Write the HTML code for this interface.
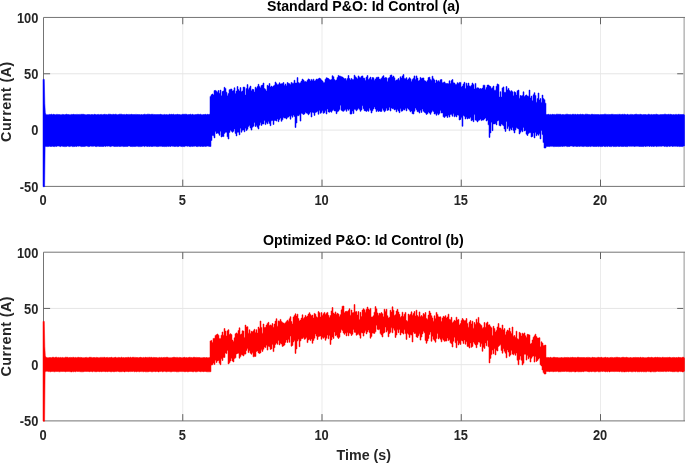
<!DOCTYPE html>
<html><head><meta charset="utf-8"><title>P&amp;O Id Control</title>
<style>
html,body{margin:0;padding:0;background:#fff;}
body{width:685px;height:463px;overflow:hidden;}
svg{display:block;}
text{font-family:"Liberation Sans",sans-serif;font-weight:bold;}
.tk{font-size:14.3px;fill:#262626;}
.lb{font-size:15.2px;fill:#262626;}
.tt{font-size:15px;fill:#000;}
.yl{font-size:14.4px;letter-spacing:0.42px;}
</style></head><body>
<svg width="685" height="463" viewBox="0 0 685 463">
<rect width="685" height="463" fill="#fff"/>
<g>
<line x1="182.75" y1="17.45" x2="182.75" y2="186.40" stroke="#ebebeb" stroke-width="1"/>
<line x1="322.00" y1="17.45" x2="322.00" y2="186.40" stroke="#ebebeb" stroke-width="1"/>
<line x1="461.25" y1="17.45" x2="461.25" y2="186.40" stroke="#ebebeb" stroke-width="1"/>
<line x1="600.50" y1="17.45" x2="600.50" y2="186.40" stroke="#ebebeb" stroke-width="1"/>
<line x1="43.50" y1="130.08" x2="686" y2="130.08" stroke="#e6e6e6" stroke-width="1"/>
<line x1="43.50" y1="73.77" x2="686" y2="73.77" stroke="#e6e6e6" stroke-width="1"/>
<line x1="684.2" y1="17.45" x2="684.2" y2="186.40" stroke="#bdbdbd" stroke-width="1.7"/>
<path d="M685.5 17.45 H43.50 V186.40 H685.5" fill="none" stroke="#747474" stroke-width="1"/>
<path d="M182.75 17.45v6.8M182.75 186.40v-6.8M322.00 17.45v6.8M322.00 186.40v-6.8M461.25 17.45v6.8M461.25 186.40v-6.8M600.50 17.45v6.8M600.50 186.40v-6.8M43.50 130.08h6.6M683.2 130.08h-6M43.50 73.77h6.6M683.2 73.77h-6" fill="none" stroke="#626262" stroke-width="1"/>
<path fill="#0000ff" stroke="#0000ff" stroke-width="0.5" stroke-linejoin="round" d="M43.0 186.7V79.4H44.3L44.8 103.5L45.3 112.5L46.0 114.7V114.7H47V114.7H48V114.7H49V114.4H50V114.6H51V114.2H52V114.7H53V114.3H54V114.6H55V114.8H56V114.4H57V114.4H58V114.6H59V114.6H60V114.7H61V114.7H62V114.4H63V114.5H64V114.7H65V114.6H66V114.2H67V114.6H68V114.5H69V114.7H70V114.8H71V114.4H72V114.6H73V114.3H74V114.6H75V114.6H76V114.4H77V114.4H78V114.6H79V114.4H80V114.4H81V114.3H82V114.3H83V114.3H84V114.6H85V114.7H86V114.8H87V114.6H88V114.5H89V114.6H90V114.7H91V114.5H92V114.6H93V114.7H94V114.3H95V114.5H96V114.7H97V114.6H98V114.4H99V114.7H100V114.5H101V114.4H102V114.7H103V114.5H104V114.3H105V114.4H106V114.5H107V114.8H108V114.2H109V114.2H110V114.3H111V114.6H112V114.4H113V114.3H114V114.5H115V114.2H116V114.4H117V114.8H118V114.6H119V114.2H120V114.2H121V114.2H122V114.6H123V114.6H124V114.4H125V114.7H126V114.3H127V114.5H128V114.4H129V114.4H130V114.6H131V114.3H132V114.6H133V114.5H134V114.5H135V114.4H136V114.4H137V114.5H138V114.6H139V114.6H140V114.7H141V114.5H142V114.8H143V114.6H144V114.2H145V114.4H146V114.5H147V114.2H148V114.2H149V114.3H150V114.6H151V114.3H152V114.3H153V114.4H154V114.5H155V114.6H156V114.6H157V114.5H158V114.5H159V114.5H160V114.3H161V114.6H162V114.7H163V114.7H164V114.4H165V114.7H166V114.6H167V114.7H168V114.8H169V114.2H170V114.6H171V114.3H172V114.5H173V114.2H174V114.7H175V114.6H176V114.6H177V114.3H178V114.6H179V114.5H180V114.7H181V114.7H182V114.3H183V114.3H184V114.3H185V114.2H186V114.3H187V114.7H188V114.6H189V114.5H190V114.2H191V114.8H192V114.3H193V114.7H194V114.7H195V114.6H196V114.5H197V114.3H198V114.3H199V114.6H200V114.2H201V114.7H202V114.7H203V114.5H204V114.6H205V114.3H206V114.8H207V114.3H208V114.6H209V114.3H210V96.4H211V94.8H212V94.0H213V95.0H214V90.6H215V90.4H216V91.2H217V92.3H218V90.5H219V93.3H220V90.1H221V95.8H222V91.5H223V90.9H224V87.3H225V88.5H226V92.2H227V95.7H228V93.6H229V89.7H230V89.2H231V89.0H232V90.9H233V90.6H234V87.8H235V93.4H236V91.1H237V86.5H238V89.6H239V91.1H240V87.6H241V91.8H242V91.0H243V87.1H244V87.2H245V95.1H246V88.6H247V84.6H248V89.2H249V87.8H250V86.1H251V90.7H252V89.3H253V89.6H254V92.0H255V87.2H256V88.3H257V86.6H258V84.3H259V86.4H260V87.7H261V85.4H262V85.0H263V83.0H264V88.5H265V89.4H266V91.1H267V85.3H268V85.9H269V83.5H270V87.1H271V86.1H272V87.1H273V86.0H274V85.2H275V82.0H276V83.5H277V84.8H278V84.5H279V82.8H280V84.1H281V83.8H282V83.6H283V82.5H284V85.5H285V84.0H286V85.8H287V82.6H288V83.3H289V83.8H290V84.4H291V82.4H292V83.2H293V83.2H294V80.3H295V83.1H296V83.0H297V77.6H298V82.6H299V83.3H300V82.7H301V81.0H302V79.1H303V80.0H304V81.4H305V81.4H306V82.0H307V80.3H308V78.9H309V79.5H310V81.1H311V79.4H312V80.4H313V79.2H314V81.1H315V80.4H316V79.1H317V79.3H318V78.8H319V78.1H320V78.8H321V80.0H322V81.0H323V82.4H324V82.4H325V79.3H326V77.8H327V78.1H328V78.6H329V79.6H330V80.0H331V79.5H332V75.7H333V76.7H334V79.6H335V80.6H336V79.9H337V77.5H338V75.4H339V76.1H340V76.2H341V76.8H342V77.1H343V77.9H344V78.8H345V78.6H346V80.2H347V78.4H348V75.5H349V78.5H350V80.0H351V78.4H352V79.5H353V79.4H354V75.2H355V76.7H356V77.7H357V78.8H358V75.9H359V77.2H360V77.7H361V76.3H362V75.9H363V78.0H364V78.2H365V80.6H366V77.1H367V75.5H368V79.5H369V78.6H370V77.1H371V79.6H372V77.6H373V77.7H374V80.2H375V79.0H376V77.4H377V77.2H378V77.1H379V79.1H380V79.2H381V78.3H382V76.7H383V75.7H384V78.1H385V77.6H386V77.8H387V81.4H388V78.2H389V77.5H390V75.3H391V74.9H392V77.1H393V76.1H394V77.8H395V80.7H396V80.0H397V79.8H398V78.5H399V80.3H400V76.8H401V78.1H402V75.9H403V74.5H404V78.4H405V78.8H406V77.7H407V80.1H408V78.9H409V77.7H410V78.8H411V81.4H412V79.6H413V78.2H414V75.9H415V79.5H416V75.9H417V78.1H418V80.9H419V80.3H420V77.4H421V78.6H422V78.1H423V77.9H424V80.6H425V81.0H426V81.9H427V80.4H428V77.6H429V77.2H430V79.4H431V80.2H432V76.2H433V78.7H434V79.9H435V82.9H436V80.1H437V81.5H438V80.7H439V81.7H440V79.8H441V79.5H442V82.8H443V82.4H444V81.9H445V83.3H446V83.6H447V83.5H448V83.7H449V80.8H450V83.5H451V80.6H452V79.5H453V82.8H454V83.0H455V84.5H456V84.5H457V82.7H458V83.5H459V82.4H460V82.4H461V86.9H462V86.1H463V83.9H464V82.3H465V88.6H466V83.2H467V85.7H468V83.1H469V85.9H470V86.5H471V85.2H472V83.0H473V84.6H474V89.0H475V83.4H476V88.2H477V87.8H478V87.9H479V88.9H480V88.5H481V88.9H482V88.1H483V85.2H484V85.2H485V89.4H486V87.4H487V85.1H488V85.0H489V85.9H490V86.6H491V88.5H492V87.8H493V86.1H494V90.2H495V90.2H496V86.2H497V83.9H498V84.6H499V97.1H500V91.7H501V97.1H502V87.9H503V86.9H504V92.3H505V92.3H506V86.5H507V89.9H508V88.4H509V90.6H510V91.4H511V90.7H512V91.7H513V95.7H514V91.8H515V92.5H516V95.1H517V90.8H518V90.1H519V98.2H520V95.5H521V95.9H522V95.4H523V91.8H524V96.5H525V95.6H526V94.9H527V96.1H528V96.2H529V90.1H530V98.0H531V96.1H532V100.8H533V94.7H534V92.7H535V95.4H536V102.2H537V98.6H538V93.0H539V100.0H540V98.5H541V102.4H542V95.1H543V98.6H544V99.7H545V103.2H546V114.5H547V114.5H548V114.3H549V114.7H550V114.4H551V114.7H552V114.3H553V114.5H554V114.4H555V114.7H556V114.2H557V114.2H558V114.3H559V114.3H560V114.3H561V114.8H562V114.5H563V114.6H564V114.7H565V114.4H566V114.2H567V114.2H568V114.5H569V114.6H570V114.4H571V114.7H572V114.3H573V114.3H574V114.4H575V114.3H576V114.7H577V114.3H578V114.6H579V114.5H580V114.2H581V114.5H582V114.3H583V114.6H584V114.7H585V114.2H586V114.2H587V114.3H588V114.5H589V114.6H590V114.7H591V114.3H592V114.3H593V114.6H594V114.4H595V114.5H596V114.5H597V114.5H598V114.5H599V114.7H600V114.6H601V114.6H602V114.5H603V114.5H604V114.2H605V114.2H606V114.4H607V114.6H608V114.4H609V114.5H610V114.6H611V114.3H612V114.3H613V114.4H614V114.6H615V114.5H616V114.6H617V114.4H618V114.4H619V114.3H620V114.4H621V114.6H622V114.3H623V114.4H624V114.2H625V114.6H626V114.7H627V114.3H628V114.8H629V114.7H630V114.4H631V114.4H632V114.6H633V114.7H634V114.5H635V114.3H636V114.2H637V114.6H638V114.6H639V114.4H640V114.3H641V114.6H642V114.7H643V114.6H644V114.6H645V114.5H646V114.7H647V114.7H648V114.2H649V114.4H650V114.8H651V114.4H652V114.7H653V114.5H654V114.5H655V114.4H656V114.2H657V114.6H658V114.7H659V114.7H660V114.6H661V114.6H662V114.5H663V114.5H664V114.2H665V114.2H666V114.5H667V114.6H668V114.3H669V114.4H670V114.3H671V114.5H672V114.8H673V114.6H674V114.7H675V114.4H676V114.4H677V114.7H678V114.3H679V114.4H680V114.5H681V114.5H682V114.5H683V114.4H684H684.0V146.1H683V146.6H682V146.5H681V146.4H680V146.6H679V146.3H678V146.4H677V146.2H676V146.3H675V146.2H674V146.3H673V146.5H672V146.1H671V146.2H670V146.4H669V146.1H668V146.6H667V146.6H666V146.3H665V146.4H664V146.1H663V146.1H662V146.3H661V146.2H660V146.2H659V146.3H658V146.2H657V146.6H656V146.1H655V146.3H654V146.5H653V146.2H652V146.4H651V146.1H650V146.5H649V146.1H648V146.2H647V146.2H646V146.5H645V146.1H644V146.6H643V146.5H642V146.5H641V146.4H640V146.5H639V146.3H638V146.2H637V146.2H636V146.3H635V146.5H634V146.2H633V146.2H632V146.3H631V146.2H630V146.3H629V146.1H628V146.6H627V146.6H626V146.5H625V146.3H624V146.5H623V146.5H622V146.4H621V146.2H620V146.5H619V146.4H618V146.2H617V146.4H616V146.6H615V146.5H614V146.6H613V146.1H612V146.6H611V146.6H610V146.5H609V146.1H608V146.6H607V146.2H606V146.6H605V146.5H604V146.1H603V146.4H602V146.6H601V146.5H600V146.3H599V146.6H598V146.2H597V146.5H596V146.4H595V146.5H594V146.5H593V146.2H592V146.2H591V146.6H590V146.2H589V146.5H588V146.6H587V146.5H586V146.2H585V146.3H584V146.6H583V146.4H582V146.3H581V146.2H580V146.4H579V146.2H578V146.4H577V146.5H576V146.2H575V146.2H574V146.5H573V146.2H572V146.1H571V146.1H570V146.5H569V146.4H568V146.6H567V146.3H566V146.1H565V146.3H564V146.2H563V146.5H562V146.3H561V146.4H560V146.5H559V146.6H558V146.4H557V146.5H556V146.4H555V146.6H554V146.6H553V146.2H552V146.3H551V146.2H550V146.6H549V146.4H548V146.5H547V146.5H546V148.0H545V148.0H544V142.6H543V134.6H542V130.5H541V138.9H540V133.7H539V135.2H538V134.0H537V135.7H536V132.6H535V137.9H534V132.9H533V136.4H532V137.0H531V132.7H530V132.7H529V133.5H528V135.5H527V134.2H526V130.4H525V130.9H524V127.5H523V131.8H522V130.4H521V132.3H520V133.9H519V128.9H518V128.3H517V127.8H516V129.9H515V132.9H514V130.6H513V127.5H512V129.9H511V128.4H510V130.8H509V126.6H508V128.6H507V121.5H506V131.4H505V128.9H504V125.7H503V124.8H502V123.9H501V126.0H500V125.6H499V120.6H498V121.0H497V124.9H496V123.5H495V123.9H494V123.9H493V130.7H492V122.2H491V132.9H490V137.4H489V124.8H488V120.3H487V121.0H486V117.9H485V118.9H484V120.1H483V120.0H482V120.6H481V119.0H480V120.1H479V120.5H478V121.9H477V120.5H476V120.1H475V114.6H474V121.7H473V120.0H472V120.7H471V117.3H470V118.4H469V118.3H468V118.9H467V117.2H466V119.0H465V116.3H464V115.5H463V126.3H462V117.6H461V119.4H460V120.0H459V115.2H458V114.9H457V116.9H456V115.8H455V116.8H454V113.8H453V116.2H452V114.6H451V114.5H450V117.1H449V115.2H448V117.5H447V115.9H446V116.3H445V117.4H444V116.8H443V112.9H442V113.0H441V110.6H440V113.6H439V114.8H438V113.4H437V115.3H436V113.8H435V114.0H434V111.4H433V110.8H432V112.3H431V114.3H430V113.0H429V112.1H428V113.7H427V114.4H426V113.1H425V112.3H424V111.2H423V109.0H422V112.4H421V110.3H420V113.1H419V111.7H418V111.7H417V109.8H416V108.1H415V111.3H414V114.0H413V113.7H412V110.9H411V111.8H410V110.2H409V109.1H408V108.1H407V110.9H406V108.6H405V110.0H404V109.5H403V110.9H402V111.2H401V108.8H400V112.7H399V111.0H398V109.4H397V111.8H396V109.4H395V109.9H394V108.7H393V108.7H392V107.9H391V111.0H390V107.3H389V110.0H388V110.4H387V108.2H386V110.7H385V111.8H384V110.3H383V108.4H382V111.4H381V111.4H380V110.9H379V111.5H378V110.6H377V111.6H376V109.1H375V107.0H374V108.9H373V110.8H372V113.0H371V110.2H370V108.2H369V111.3H368V110.4H367V111.4H366V110.9H365V110.7H364V108.7H363V105.7H362V110.0H361V111.3H360V109.3H359V108.2H358V109.6H357V110.8H356V109.6H355V109.3H354V113.5H353V111.0H352V114.0H351V114.1H350V109.0H349V110.3H348V109.0H347V111.3H346V109.6H345V110.3H344V111.3H343V111.1H342V110.3H341V105.2H340V109.6H339V111.1H338V111.8H337V113.7H336V111.1H335V110.9H334V109.8H333V110.5H332V112.2H331V111.4H330V112.2H329V111.9H328V108.9H327V114.0H326V110.8H325V112.7H324V113.3H323V110.7H322V112.6H321V113.3H320V110.6H319V114.3H318V111.3H317V112.1H316V112.5H315V115.4H314V112.7H313V112.3H312V117.0H311V112.1H310V113.4H309V114.8H308V113.5H307V113.1H306V112.2H305V114.0H304V114.5H303V113.7H302V113.3H301V121.1H300V114.8H299V115.7H298V115.8H297V123.0H296V127.5H295V116.4H294V115.1H293V117.2H292V115.7H291V119.2H290V116.1H289V117.1H288V117.4H287V119.0H286V118.1H285V118.1H284V117.6H283V119.8H282V121.3H281V118.1H280V119.4H279V121.7H278V118.9H277V121.1H276V120.5H275V120.5H274V124.5H273V120.4H272V120.8H271V125.7H270V123.4H269V121.6H268V123.8H267V122.5H266V124.6H265V120.5H264V124.0H263V124.0H262V125.4H261V122.8H260V125.2H259V129.0H258V127.3H257V125.6H256V126.5H255V122.5H254V126.2H253V127.2H252V130.1H251V128.0H250V125.6H249V126.6H248V129.2H247V130.6H246V128.2H245V131.8H244V129.9H243V130.2H242V132.2H241V128.2H240V134.8H239V132.2H238V132.3H237V135.9H236V133.4H235V128.9H234V131.3H233V132.2H232V131.2H231V130.3H230V132.4H229V139.0H228V136.8H227V132.2H226V132.3H225V133.4H224V136.6H223V136.5H222V137.0H221V131.3H220V135.3H219V133.4H218V133.1H217V133.5H216V131.6H215V137.9H214V135.8H213V135.4H212V140.5H211V146.5H210V146.4H209V146.2H208V146.1H207V146.3H206V146.4H205V146.3H204V146.4H203V146.5H202V146.2H201V146.5H200V146.2H199V146.3H198V146.6H197V146.5H196V146.1H195V146.2H194V146.3H193V146.4H192V146.3H191V146.6H190V146.5H189V146.1H188V146.3H187V146.1H186V146.1H185V146.6H184V146.5H183V146.6H182V146.5H181V146.2H180V146.1H179V146.5H178V146.6H177V146.3H176V146.4H175V146.5H174V146.3H173V146.2H172V146.1H171V146.5H170V146.2H169V146.4H168V146.3H167V146.6H166V146.4H165V146.6H164V146.4H163V146.5H162V146.2H161V146.3H160V146.3H159V146.4H158V146.6H157V146.4H156V146.3H155V146.3H154V146.2H153V146.5H152V146.5H151V146.2H150V146.5H149V146.2H148V146.5H147V146.3H146V146.1H145V146.6H144V146.1H143V146.2H142V146.4H141V146.6H140V146.6H139V146.6H138V146.3H137V146.3H136V146.4H135V146.5H134V146.4H133V146.6H132V146.5H131V146.4H130V146.1H129V146.1H128V146.4H127V146.4H126V146.4H125V146.5H124V146.6H123V146.2H122V146.3H121V146.4H120V146.5H119V146.3H118V146.4H117V146.4H116V146.4H115V146.5H114V146.2H113V146.1H112V146.2H111V146.6H110V146.2H109V146.1H108V146.2H107V146.1H106V146.4H105V146.1H104V146.5H103V146.5H102V146.4H101V146.4H100V146.5H99V146.3H98V146.2H97V146.6H96V146.4H95V146.1H94V146.2H93V146.3H92V146.2H91V146.1H90V146.4H89V146.6H88V146.2H87V146.1H86V146.2H85V146.4H84V146.5H83V146.5H82V146.6H81V146.2H80V146.1H79V146.2H78V146.1H77V146.5H76V146.2H75V146.5H74V146.6H73V146.6H72V146.1H71V146.3H70V146.6H69V146.3H68V146.1H67V146.4H66V146.6H65V146.6H64V146.4H63V146.3H62V146.1H61V146.6H60V146.2H59V146.1H58V146.1H57V146.4H56V146.3H55V146.6H54V146.5H53V146.2H52V146.4H51V146.5H50V146.3H49V146.4H48V146.6H47V146.4H46L45.1 146.6L44.6 186.7Z"/>
<rect x="684" y="114.8" width="1" height="31.3" fill="#0000ff" opacity="0.7"/>
<text class="tk" transform="translate(38.4 22.85) scale(0.9 1)" text-anchor="end">100</text>
<text class="tk" transform="translate(38.4 79.17) scale(0.9 1)" text-anchor="end">50</text>
<text class="tk" transform="translate(38.4 135.48) scale(0.9 1)" text-anchor="end">0</text>
<text class="tk" transform="translate(38.4 191.80) scale(0.9 1)" text-anchor="end">-50</text>
<text class="tk" transform="translate(43.10 205.40) scale(0.9 1)" text-anchor="middle">0</text>
<text class="tk" transform="translate(182.35 205.40) scale(0.9 1)" text-anchor="middle">5</text>
<text class="tk" transform="translate(321.60 205.40) scale(0.9 1)" text-anchor="middle">10</text>
<text class="tk" transform="translate(460.85 205.40) scale(0.9 1)" text-anchor="middle">15</text>
<text class="tk" transform="translate(600.10 205.40) scale(0.9 1)" text-anchor="middle">20</text>
<text class="lb yl" transform="translate(10.5 101.62) rotate(-90)" text-anchor="middle">Current (A)</text>
<text class="tt" transform="translate(363.4 11.00) scale(0.945 1)" text-anchor="middle">Standard P&amp;O: Id Control (a)</text>
</g>
<g>
<line x1="182.75" y1="252.20" x2="182.75" y2="420.90" stroke="#ebebeb" stroke-width="1"/>
<line x1="322.00" y1="252.20" x2="322.00" y2="420.90" stroke="#ebebeb" stroke-width="1"/>
<line x1="461.25" y1="252.20" x2="461.25" y2="420.90" stroke="#ebebeb" stroke-width="1"/>
<line x1="600.50" y1="252.20" x2="600.50" y2="420.90" stroke="#ebebeb" stroke-width="1"/>
<line x1="43.50" y1="364.67" x2="686" y2="364.67" stroke="#e6e6e6" stroke-width="1"/>
<line x1="43.50" y1="308.43" x2="686" y2="308.43" stroke="#e6e6e6" stroke-width="1"/>
<line x1="684.2" y1="252.20" x2="684.2" y2="420.90" stroke="#bdbdbd" stroke-width="1.7"/>
<path d="M685.5 252.20 H43.50 V420.90 H685.5" fill="none" stroke="#747474" stroke-width="1"/>
<path d="M182.75 252.20v6.8M182.75 420.90v-6.8M322.00 252.20v6.8M322.00 420.90v-6.8M461.25 252.20v6.8M461.25 420.90v-6.8M600.50 252.20v6.8M600.50 420.90v-6.8M43.50 364.67h6.6M683.2 364.67h-6M43.50 308.43h6.6M683.2 308.43h-6" fill="none" stroke="#626262" stroke-width="1"/>
<path fill="#ff0000" stroke="#ff0000" stroke-width="0.5" stroke-linejoin="round" d="M43.0 421.2V321.4H44.3L44.8 346.6L45.3 355.6L46.0 357.5V357.5H47V357.8H48V357.7H49V357.6H50V357.6H51V357.7H52V357.3H53V357.3H54V357.7H55V357.3H56V357.2H57V357.7H58V357.4H59V357.7H60V357.4H61V357.8H62V357.4H63V357.7H64V357.7H65V357.2H66V357.3H67V357.3H68V357.8H69V357.5H70V357.4H71V357.5H72V357.4H73V357.3H74V357.7H75V357.4H76V357.8H77V357.4H78V357.3H79V357.6H80V357.4H81V357.5H82V357.8H83V357.7H84V357.7H85V357.5H86V357.4H87V357.7H88V357.7H89V357.3H90V357.3H91V357.4H92V357.7H93V357.5H94V357.5H95V357.7H96V357.4H97V357.6H98V357.7H99V357.7H100V357.4H101V357.4H102V357.4H103V357.4H104V357.3H105V357.8H106V357.5H107V357.4H108V357.8H109V357.6H110V357.6H111V357.3H112V357.7H113V357.7H114V357.5H115V357.3H116V357.8H117V357.7H118V357.4H119V357.6H120V357.7H121V357.2H122V357.7H123V357.6H124V357.8H125V357.6H126V357.6H127V357.4H128V357.3H129V357.8H130V357.2H131V357.8H132V357.3H133V357.3H134V357.4H135V357.4H136V357.5H137V357.6H138V357.8H139V357.5H140V357.3H141V357.6H142V357.8H143V357.4H144V357.7H145V357.3H146V357.6H147V357.4H148V357.4H149V357.3H150V357.4H151V357.3H152V357.8H153V357.4H154V357.5H155V357.6H156V357.6H157V357.8H158V357.8H159V357.4H160V357.7H161V357.4H162V357.8H163V357.5H164V357.4H165V357.6H166V357.3H167V357.3H168V357.7H169V357.8H170V357.7H171V357.7H172V357.6H173V357.3H174V357.3H175V357.6H176V357.4H177V357.4H178V357.8H179V357.4H180V357.5H181V357.7H182V357.7H183V357.5H184V357.3H185V357.7H186V357.6H187V357.8H188V357.6H189V357.3H190V357.4H191V357.6H192V357.7H193V357.3H194V357.3H195V357.6H196V357.4H197V357.5H198V357.5H199V357.5H200V357.8H201V357.8H202V357.7H203V357.6H204V357.6H205V357.8H206V357.5H207V357.8H208V357.7H209V357.5H210V340.9H211V340.4H212V342.6H213V338.4H214V338.3H215V335.4H216V334.7H217V334.0H218V335.2H219V338.4H220V338.4H221V335.2H222V332.0H223V335.3H224V328.5H225V331.1H226V335.9H227V330.7H228V329.7H229V334.6H230V333.7H231V334.6H232V340.1H233V341.6H234V337.8H235V333.8H236V332.9H237V333.7H238V330.5H239V327.8H240V334.6H241V333.9H242V330.8H243V331.0H244V337.4H245V325.1H246V326.9H247V326.7H248V333.2H249V329.8H250V333.6H251V331.3H252V331.7H253V330.7H254V329.3H255V332.4H256V329.7H257V333.1H258V327.1H259V328.6H260V321.0H261V327.4H262V333.2H263V324.0H264V327.5H265V327.3H266V325.1H267V323.4H268V322.3H269V325.5H270V324.9H271V325.6H272V323.5H273V327.3H274V324.1H275V321.1H276V318.7H277V326.2H278V320.9H279V321.3H280V319.4H281V321.4H282V322.5H283V323.1H284V323.4H285V322.7H286V321.4H287V320.2H288V321.2H289V318.7H290V316.7H291V321.5H292V324.0H293V316.9H294V315.5H295V313.8H296V316.1H297V314.2H298V318.5H299V320.9H300V320.1H301V318.1H302V314.8H303V318.6H304V317.5H305V315.4H306V317.0H307V316.0H308V314.1H309V312.7H310V314.6H311V315.7H312V315.1H313V318.0H314V313.4H315V314.2H316V316.8H317V317.6H318V311.6H319V312.7H320V317.0H321V312.6H322V315.5H323V313.7H324V312.4H325V314.5H326V313.2H327V312.4H328V315.3H329V317.6H330V315.5H331V310.9H332V307.5H333V313.1H334V313.9H335V311.9H336V314.2H337V313.3H338V314.0H339V316.4H340V314.7H341V309.8H342V306.2H343V306.0H344V312.7H345V311.6H346V311.3H347V311.5H348V310.6H349V308.7H350V315.2H351V310.0H352V312.7H353V312.6H354V304.5H355V311.7H356V311.6H357V315.1H358V311.5H359V319.4H360V312.3H361V316.6H362V310.1H363V308.7H364V309.8H365V312.2H366V309.3H367V307.1H368V309.0H369V309.9H370V308.4H371V316.9H372V316.9H373V315.8H374V312.2H375V306.6H376V308.8H377V312.9H378V315.2H379V313.3H380V313.4H381V312.6H382V313.8H383V316.8H384V309.2H385V311.4H386V309.3H387V315.7H388V318.0H389V317.3H390V310.2H391V311.9H392V306.8H393V310.2H394V315.5H395V314.7H396V311.0H397V309.3H398V312.0H399V314.3H400V317.3H401V316.3H402V312.2H403V316.5H404V314.2H405V312.4H406V320.5H407V321.3H408V314.1H409V315.3H410V314.2H411V311.8H412V315.3H413V313.5H414V311.5H415V315.9H416V310.2H417V315.5H418V316.7H419V311.9H420V316.4H421V315.6H422V316.4H423V313.5H424V314.5H425V312.5H426V318.4H427V319.2H428V315.1H429V311.1H430V313.0H431V315.7H432V317.9H433V321.2H434V315.8H435V318.4H436V312.4H437V314.4H438V316.8H439V317.0H440V316.8H441V321.5H442V317.9H443V316.3H444V317.0H445V315.7H446V318.1H447V316.9H448V314.2H449V319.3H450V319.7H451V317.3H452V322.8H453V321.8H454V320.3H455V321.0H456V317.2H457V320.1H458V319.4H459V324.9H460V323.6H461V320.6H462V318.5H463V319.8H464V320.8H465V320.6H466V318.5H467V323.4H468V327.2H469V322.0H470V320.5H471V324.0H472V321.2H473V328.2H474V322.5H475V324.3H476V319.2H477V322.6H478V317.4H479V323.3H480V324.5H481V325.4H482V328.2H483V327.4H484V322.5H485V327.3H486V323.3H487V322.0H488V325.0H489V324.8H490V326.6H491V327.7H492V335.4H493V326.3H494V328.5H495V332.0H496V330.4H497V326.9H498V323.5H499V327.9H500V328.1H501V329.2H502V325.0H503V329.9H504V328.6H505V334.8H506V331.8H507V330.1H508V330.7H509V328.1H510V331.4H511V333.6H512V327.0H513V336.2H514V335.5H515V337.3H516V331.2H517V338.7H518V339.3H519V332.3H520V333.3H521V336.0H522V333.2H523V333.9H524V332.9H525V335.7H526V337.5H527V334.3H528V334.5H529V334.9H530V344.0H531V343.3H532V339.9H533V337.3H534V335.8H535V334.2H536V336.6H537V338.0H538V338.1H539V337.7H540V346.8H541V341.8H542V343.1H543V345.4H544V345.3H545V345.1H546V357.5H547V357.4H548V357.5H549V357.7H550V357.3H551V357.7H552V357.7H553V357.3H554V357.3H555V357.6H556V357.6H557V357.6H558V357.8H559V357.8H560V357.7H561V357.5H562V357.7H563V357.8H564V357.4H565V357.6H566V357.5H567V357.4H568V357.5H569V357.7H570V357.4H571V357.6H572V357.3H573V357.6H574V357.6H575V357.6H576V357.7H577V357.3H578V357.3H579V357.6H580V357.5H581V357.5H582V357.6H583V357.5H584V357.6H585V357.7H586V357.5H587V357.4H588V357.4H589V357.5H590V357.7H591V357.8H592V357.3H593V357.6H594V357.5H595V357.7H596V357.8H597V357.4H598V357.3H599V357.5H600V357.5H601V357.3H602V357.8H603V357.7H604V357.6H605V357.3H606V357.7H607V357.5H608V357.8H609V357.8H610V357.5H611V357.4H612V357.6H613V357.7H614V357.6H615V357.4H616V357.3H617V357.3H618V357.5H619V357.5H620V357.7H621V357.6H622V357.3H623V357.3H624V357.5H625V357.5H626V357.3H627V357.6H628V357.7H629V357.8H630V357.5H631V357.7H632V357.7H633V357.5H634V357.6H635V357.4H636V357.6H637V357.5H638V357.5H639V357.7H640V357.3H641V357.7H642V357.4H643V357.6H644V357.7H645V357.7H646V357.8H647V357.5H648V357.3H649V357.5H650V357.6H651V357.3H652V357.6H653V357.8H654V357.5H655V357.3H656V357.6H657V357.3H658V357.6H659V357.4H660V357.6H661V357.7H662V357.3H663V357.4H664V357.6H665V357.6H666V357.6H667V357.4H668V357.5H669V357.3H670V357.6H671V357.7H672V357.6H673V357.4H674V357.5H675V357.7H676V357.5H677V357.7H678V357.3H679V357.5H680V357.6H681V357.7H682V357.3H683V357.3H684H684.0V371.7H683V371.9H682V371.5H681V371.6H680V371.3H679V371.8H678V371.8H677V371.6H676V371.6H675V371.7H674V371.7H673V371.7H672V371.5H671V371.4H670V371.3H669V371.4H668V371.3H667V371.6H666V371.6H665V371.3H664V371.6H663V371.5H662V371.5H661V371.6H660V371.6H659V371.5H658V371.3H657V371.4H656V371.8H655V371.8H654V371.8H653V371.6H652V371.8H651V371.9H650V371.6H649V371.6H648V371.3H647V371.8H646V371.8H645V371.7H644V371.8H643V371.5H642V371.8H641V371.4H640V371.8H639V371.7H638V371.8H637V371.3H636V371.8H635V371.4H634V371.6H633V371.8H632V371.8H631V371.5H630V371.4H629V371.8H628V371.4H627V371.7H626V371.7H625V371.9H624V371.7H623V371.8H622V371.8H621V371.3H620V371.7H619V371.4H618V371.5H617V371.4H616V371.4H615V371.6H614V371.5H613V371.4H612V371.4H611V371.5H610V371.9H609V371.3H608V371.8H607V371.4H606V371.8H605V371.4H604V371.3H603V371.5H602V371.3H601V371.6H600V371.8H599V371.8H598V371.3H597V371.4H596V371.8H595V371.8H594V371.4H593V371.4H592V371.7H591V371.4H590V371.8H589V371.7H588V371.4H587V371.3H586V371.3H585V371.3H584V371.7H583V371.5H582V371.7H581V371.7H580V371.7H579V371.8H578V371.6H577V371.4H576V371.9H575V371.8H574V371.5H573V371.5H572V371.8H571V371.7H570V371.8H569V371.6H568V371.4H567V371.6H566V371.3H565V371.5H564V371.5H563V371.5H562V371.6H561V371.7H560V371.7H559V371.8H558V371.3H557V371.4H556V371.6H555V371.5H554V371.7H553V371.6H552V371.4H551V371.4H550V371.7H549V371.4H548V371.4H547V371.6H546V374.0H545V374.0H544V372.6H543V370.0H542V365.9H541V364.7H540V358.1H539V359.1H538V360.5H537V361.4H536V356.6H535V362.1H534V355.9H533V356.4H532V358.2H531V362.0H530V357.2H529V358.8H528V355.6H527V360.1H526V354.3H525V354.3H524V363.3H523V364.9H522V360.3H521V356.1H520V359.5H519V364.7H518V360.2H517V353.0H516V355.3H515V353.5H514V354.8H513V354.1H512V350.6H511V355.1H510V356.3H509V352.1H508V349.9H507V357.8H506V353.2H505V351.3H504V348.7H503V353.2H502V350.5H501V344.8H500V345.4H499V346.5H498V351.0H497V350.3H496V354.9H495V348.7H494V353.8H493V350.0H492V354.6H491V358.4H490V362.9H489V346.8H488V340.4H487V345.8H486V342.9H485V348.4H484V347.2H483V351.3H482V343.8H481V346.5H480V342.3H479V341.9H478V344.4H477V347.7H476V344.9H475V343.6H474V342.0H473V346.4H472V347.3H471V342.9H470V348.0H469V346.5H468V346.4H467V341.7H466V344.2H465V340.1H464V343.6H463V341.0H462V340.4H461V344.4H460V343.2H459V344.9H458V340.7H457V347.7H456V342.8H455V337.3H454V341.3H453V347.0H452V343.7H451V342.8H450V339.7H449V340.6H448V338.1H447V341.1H446V341.1H445V341.3H444V340.1H443V338.8H442V341.8H441V339.3H440V337.7H439V338.9H438V333.4H437V338.4H436V342.2H435V340.5H434V339.3H433V336.3H432V341.3H431V332.1H430V334.5H429V338.6H428V341.0H427V343.3H426V340.5H425V332.8H424V331.2H423V333.9H422V337.0H421V340.1H420V333.8H419V335.7H418V337.5H417V336.9H416V333.6H415V333.5H414V332.1H413V342.0H412V335.0H411V334.8H410V337.5H409V334.3H408V333.3H407V339.4H406V333.6H405V329.8H404V334.1H403V333.0H402V332.7H401V335.0H400V329.5H399V332.7H398V329.8H397V335.1H396V337.5H395V330.2H394V328.3H393V332.8H392V327.8H391V332.3H390V333.5H389V336.8H388V330.4H387V332.0H386V327.0H385V332.5H384V333.2H383V337.0H382V335.1H381V333.6H380V329.2H379V329.8H378V329.3H377V325.2H376V331.8H375V333.4H374V333.2H373V333.1H372V336.5H371V338.2H370V332.5H369V330.1H368V332.0H367V333.9H366V330.8H365V332.7H364V336.1H363V332.9H362V332.8H361V338.2H360V335.2H359V333.8H358V334.6H357V335.2H356V332.4H355V332.3H354V329.5H353V334.3H352V335.5H351V333.5H350V332.9H349V335.8H348V332.4H347V335.9H346V332.9H345V334.3H344V332.9H343V330.6H342V329.5H341V332.5H340V337.2H339V338.4H338V337.2H337V335.1H336V335.7H335V332.0H334V338.4H333V336.9H332V339.9H331V344.4H330V335.6H329V338.8H328V335.0H327V338.2H326V340.3H325V337.2H324V338.2H323V337.3H322V339.2H321V335.9H320V336.2H319V336.7H318V339.5H317V336.1H316V334.0H315V338.3H314V340.5H313V343.3H312V338.9H311V340.6H310V339.2H309V339.9H308V342.6H307V337.4H306V338.8H305V339.3H304V337.4H303V338.4H302V338.8H301V340.9H300V346.7H299V339.2H298V341.0H297V348.9H296V353.4H295V340.5H294V341.9H293V345.4H292V346.2H291V336.1H290V342.3H289V339.6H288V342.5H287V339.9H286V342.4H285V345.1H284V345.9H283V346.4H282V344.0H281V343.2H280V344.9H279V340.5H278V344.3H277V343.0H276V344.4H275V347.7H274V351.6H273V344.6H272V348.9H271V349.4H270V346.7H269V346.2H268V350.1H267V345.3H266V347.6H265V347.1H264V349.3H263V351.4H262V349.8H261V352.9H260V353.4H259V352.9H258V350.9H257V351.4H256V356.4H255V356.6H254V356.8H253V352.7H252V354.2H251V353.2H250V350.7H249V352.6H248V348.5H247V350.4H246V354.1H245V354.2H244V356.0H243V355.1H242V354.7H241V356.6H240V358.2H239V353.3H238V353.4H237V354.0H236V357.8H235V358.6H234V361.9H233V361.1H232V358.3H231V361.0H230V362.8H229V363.9H228V350.4H227V353.6H226V353.1H225V357.5H224V357.5H223V360.5H222V358.7H221V364.7H220V363.2H219V360.5H218V360.9H217V362.6H216V360.3H215V364.4H214V363.0H213V364.7H212V365.1H211V371.7H210V371.8H209V371.8H208V371.8H207V371.7H206V371.5H205V371.5H204V371.7H203V371.5H202V371.6H201V371.7H200V371.4H199V371.3H198V371.6H197V371.8H196V371.8H195V371.3H194V371.8H193V371.7H192V371.5H191V371.5H190V371.5H189V371.7H188V371.8H187V371.5H186V371.7H185V371.7H184V371.5H183V371.4H182V371.6H181V371.4H180V371.6H179V371.8H178V371.8H177V371.8H176V371.5H175V371.6H174V371.4H173V371.4H172V371.8H171V371.8H170V371.6H169V371.4H168V371.6H167V371.8H166V371.6H165V371.3H164V371.6H163V371.8H162V371.3H161V371.4H160V371.6H159V371.9H158V371.4H157V371.5H156V371.7H155V371.4H154V371.5H153V371.8H152V371.8H151V371.4H150V371.4H149V371.7H148V371.8H147V371.8H146V371.8H145V371.5H144V371.8H143V371.6H142V371.6H141V371.5H140V371.8H139V371.6H138V371.4H137V371.8H136V371.5H135V371.8H134V371.3H133V371.5H132V371.4H131V371.6H130V371.5H129V371.7H128V371.5H127V371.5H126V371.6H125V371.9H124V371.5H123V371.6H122V371.7H121V371.7H120V371.8H119V371.5H118V371.3H117V371.6H116V371.5H115V371.7H114V371.7H113V371.4H112V371.8H111V371.7H110V371.4H109V371.4H108V371.7H107V371.5H106V371.7H105V371.5H104V371.4H103V371.5H102V371.7H101V371.5H100V371.7H99V371.5H98V371.4H97V371.7H96V371.7H95V371.6H94V371.3H93V371.8H92V371.4H91V371.4H90V371.7H89V371.5H88V371.4H87V371.5H86V371.4H85V371.4H84V371.7H83V371.8H82V371.8H81V371.7H80V371.6H79V371.5H78V371.5H77V371.3H76V371.8H75V371.4H74V371.8H73V371.6H72V371.9H71V371.7H70V371.6H69V371.4H68V371.5H67V371.5H66V371.8H65V371.5H64V371.4H63V371.5H62V371.4H61V371.6H60V371.8H59V371.6H58V371.5H57V371.5H56V371.6H55V371.8H54V371.6H53V371.4H52V371.5H51V371.8H50V371.6H49V371.6H48V371.3H47V371.3H46L45.1 371.9L44.6 421.2Z"/>
<rect x="684" y="357.8" width="1" height="13.5" fill="#ff0000" opacity="0.7"/>
<text class="tk" transform="translate(38.4 257.60) scale(0.9 1)" text-anchor="end">100</text>
<text class="tk" transform="translate(38.4 313.83) scale(0.9 1)" text-anchor="end">50</text>
<text class="tk" transform="translate(38.4 370.07) scale(0.9 1)" text-anchor="end">0</text>
<text class="tk" transform="translate(38.4 426.30) scale(0.9 1)" text-anchor="end">-50</text>
<text class="tk" transform="translate(43.10 439.50) scale(0.9 1)" text-anchor="middle">0</text>
<text class="tk" transform="translate(182.35 439.50) scale(0.9 1)" text-anchor="middle">5</text>
<text class="tk" transform="translate(321.60 439.50) scale(0.9 1)" text-anchor="middle">10</text>
<text class="tk" transform="translate(460.85 439.50) scale(0.9 1)" text-anchor="middle">15</text>
<text class="tk" transform="translate(600.10 439.50) scale(0.9 1)" text-anchor="middle">20</text>
<text class="lb yl" transform="translate(10.5 336.25) rotate(-90)" text-anchor="middle">Current (A)</text>
<text class="tt" transform="translate(363.4 245.20) scale(0.945 1)" text-anchor="middle">Optimized P&amp;O: Id Control (b)</text>
</g>
<text class="lb" transform="translate(363.75 459.6) scale(0.94 1)" text-anchor="middle">Time (s)</text>
</svg>
</body></html>
